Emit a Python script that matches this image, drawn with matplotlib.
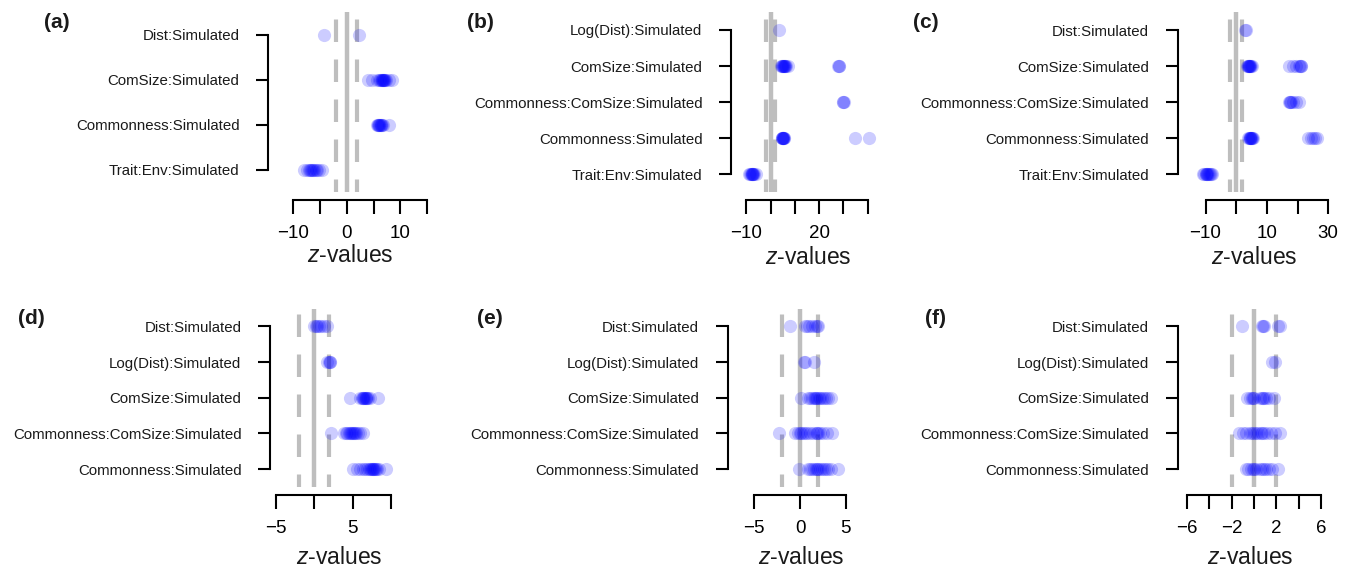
import matplotlib
matplotlib.use("Agg")
import matplotlib.pyplot as plt

plt.rcParams['font.family'] = ['Liberation Sans', 'DejaVu Sans']
plt.rcParams['mathtext.fontset'] = 'custom'
plt.rcParams['mathtext.it'] = 'Liberation Sans:italic'
plt.rcParams['mathtext.rm'] = 'Liberation Sans'

# terms are listed top to bottom, z-values for each term below
a_terms = ["Dist:Simulated", "ComSize:Simulated", "Commonness:Simulated",
           "Trait:Env:Simulated"]
a_z = [[-4.2, 2.2],
       [3.9, 4.8, 5.6, 6.0, 6.2, 6.4, 6.5, 6.6, 6.7, 6.8, 6.9, 7.0, 7.2, 7.4, 7.8, 8.5],
       [5.6, 5.8, 5.9, 6.0, 6.1, 6.2, 6.3, 6.4, 6.5, 6.7, 7.9],
       [-8.0, -7.4, -7.0, -6.8, -6.6, -6.4, -6.2, -6.0, -5.8, -5.6, -5.2, -4.6]]
a_xticks = [-10, -5, 0, 5, 10, 15]
a_xlabels = ["\u221210", "", "0", "", "10", ""]

b_terms = ["Log(Dist):Simulated", "ComSize:Simulated",
           "Commonness:ComSize:Simulated", "Commonness:Simulated",
           "Trait:Env:Simulated"]
b_z = [[3.3],
       [4.4, 4.6, 4.8, 5.0, 5.2, 5.4, 5.6, 5.8, 6.0, 6.3, 7.0, 27.7, 28.0, 28.3],
       [29.8, 30.0, 30.2],
       [4.6, 4.8, 4.9, 5.0, 5.1, 5.2, 5.3, 5.5, 5.6, 34.8, 40.5],
       [-8.9, -8.4, -8.0, -7.8, -7.6, -7.4, -7.2, -7.0, -6.6, -6.0]]
b_xticks = [-10, 0, 10, 20, 30, 40]
b_xlabels = ["\u221210", "", "", "20", "", ""]

c_terms = ["Dist:Simulated", "ComSize:Simulated",
           "Commonness:ComSize:Simulated", "Commonness:Simulated",
           "Trait:Env:Simulated"]
c_z = [[2.9, 3.1],
       [3.6, 3.8, 4.0, 4.1, 4.2, 4.3, 4.4, 4.6, 4.8, 5.3,
        17.3, 18.5, 19.6, 20.5, 20.8, 21.0, 21.2],
       [17.2, 17.4, 17.6, 17.8, 18.6, 19.4, 20.4],
       [4.0, 4.2, 4.4, 4.5, 4.6, 4.7, 4.8, 5.0, 5.3, 5.6,
        23.3, 24.3, 25.1, 25.6, 26.3],
       [-10.9, -10.4, -10.0, -9.8, -9.6, -9.4, -9.2, -9.0, -8.6, -8.2, -7.8]]
c_xticks = [-10, 0, 10, 20, 30]
c_xlabels = ["\u221210", "", "10", "", "30"]

d_terms = ["Dist:Simulated", "Log(Dist):Simulated", "ComSize:Simulated",
           "Commonness:ComSize:Simulated", "Commonness:Simulated"]
d_z = [[0.0, 0.2, 0.4, 0.6, 0.9, 1.2, 1.6],
       [1.7, 1.9, 2.0, 2.1],
       [4.6, 6.0, 6.2, 6.3, 6.4, 6.5, 6.6, 6.7, 6.8, 6.9, 7.0, 7.2, 8.3],
       [2.2, 3.9, 4.1, 4.3, 4.5, 4.6, 4.8, 4.9, 5.0, 5.2, 5.3, 5.5, 5.7, 6.0, 6.4],
       [5.0, 5.6, 6.0, 6.3, 6.6, 6.9, 7.1, 7.3, 7.4, 7.5, 7.6, 7.7, 7.8, 7.9,
        8.0, 8.2, 8.5, 9.3]]
d_xticks = [-5, 0, 5, 10]
d_xlabels = ["\u22125", "", "5", ""]

e_terms = d_terms
e_z = [[-1.1, 0.5, 0.8, 1.0, 1.3, 1.6, 1.9, 2.0],
       [0.4, 0.6, 1.5],
       [0.1, 0.9, 1.1, 1.3, 1.5, 1.6, 1.8, 1.9, 2.1, 2.2, 2.4, 2.6, 2.9, 3.1, 3.4],
       [-2.3, -0.5, -0.2, 0.0, 0.1, 0.3, 0.5, 0.8, 1.1, 1.4, 1.7, 1.9, 2.0, 2.2,
        2.5, 3.0, 3.5],
       [-0.1, 0.9, 1.1, 1.3, 1.5, 1.7, 1.9, 2.0, 2.2, 2.4, 2.6, 2.8, 3.1, 3.4, 4.2]]
e_xticks = [-5, 0, 5]
e_xlabels = ["\u22125", "0", "5"]

f_terms = d_terms
f_z = [[-1.1, 0.7, 0.8, 0.9, 2.1, 2.3],
       [1.6, 1.9],
       [-0.6, -0.4, -0.2, -0.1, 0.0, 0.5, 0.7, 0.8, 0.9, 1.1, 1.3, 1.8],
       [-1.3, -1.0, -0.7, -0.4, -0.2, 0.0, 0.2, 0.4, 0.6, 0.7, 0.9, 1.2, 1.5,
        1.9, 2.3],
       [-0.7, -0.5, -0.3, -0.1, 0.0, 0.2, 0.5, 0.7, 0.9, 1.1, 1.3, 1.6, 2.1]]
f_xticks = [-6, -4, -2, 0, 2, 4, 6]
f_xlabels = ["\u22126", "", "\u22122", "", "2", "", "6"]

W, H = 1352, 569
fig = plt.figure(figsize=(W / 100, H / 100), dpi=100)
TXT = '#1a1a1a'


def panel(tag, terms, zvals, xticks, xlabels, box, zero_px, px_per_unit,
          tag_xy, label_xy):
    left, top, right, bottom = box
    ax = fig.add_axes([left / W, 1 - bottom / H, (right - left) / W, (bottom - top) / H])
    n = len(terms)
    ax.set_ylim(0.5, n + 0.5)
    ax.set_xlim((left - zero_px) / px_per_unit, (right - zero_px) / px_per_unit)
    ax.patch.set_visible(False)

    # reference lines at 0 and +-1.96
    ax.axvline(0, color='#bebebe', lw=3.2, zorder=1)
    for v in (-1.96, 1.96):
        ax.axvline(v, color='#bebebe', lw=3.0, zorder=1,
                   linestyle=(2.4, (5.4, 4.2)))

    for i, zs in enumerate(zvals):
        ypos = n - i
        ax.scatter(zs, [ypos] * len(zs), s=90, color='#0000ff', alpha=0.2,
                   linewidths=0, zorder=3, clip_on=False)

    ax.set_yticks(range(n, 0, -1))
    ax.set_yticklabels(terms, color=TXT)
    ax.set_xticks(xticks)
    ax.set_xticklabels(xlabels, color=TXT)
    for s in ('top', 'right'):
        ax.spines[s].set_visible(False)
    ax.spines['left'].set_bounds(1, n)
    ax.spines['left'].set_linewidth(1.5)
    ax.spines['bottom'].set_bounds(xticks[0], xticks[-1])
    ax.spines['bottom'].set_linewidth(1.5)
    ax.spines['bottom'].set_position(('outward', 5.5))
    ax.tick_params(axis='y', length=8.6, width=1.5, pad=12, labelsize=10.8)
    ax.tick_params(axis='x', length=10, width=1.5, pad=8, labelsize=13.5)

    fig.text(tag_xy[0] / W, 1 - tag_xy[1] / H, tag, fontsize=15, color=TXT,
             fontweight='bold', ha='left', va='center')
    fig.text(label_xy[0] / W, 1 - label_xy[1] / H, r'$z$-values', fontsize=16.5,
             color=TXT, ha='center', va='center')
    return ax


panel('(a)', a_terms, a_z, a_xticks, a_xlabels, (268, 12, 440, 192), 346.7, 5.367,
      (44, 23), (350, 255))
panel('(b)', b_terms, b_z, b_xticks, b_xlabels, (731, 12, 890, 192), 770.5, 2.433,
      (467, 23), (808, 257))
panel('(c)', c_terms, c_z, c_xticks, c_xlabels, (1177.7, 12, 1345, 192), 1236.2, 3.067,
      (913, 23), (1254, 257))
panel('(d)', d_terms, d_z, d_xticks, d_xlabels, (270, 308.5, 440, 487), 314.3, 7.667,
      (18, 318), (339, 557))
panel('(e)', e_terms, e_z, e_xticks, e_xlabels, (727.7, 308.5, 890, 487), 800, 9.133,
      (477, 318), (801.7, 557))
panel('(f)', f_terms, f_z, f_xticks, f_xlabels, (1177.7, 308.5, 1345, 487), 1254, 11.2,
      (925, 318), (1250.7, 557))

fig.savefig('out.png', dpi=100)
